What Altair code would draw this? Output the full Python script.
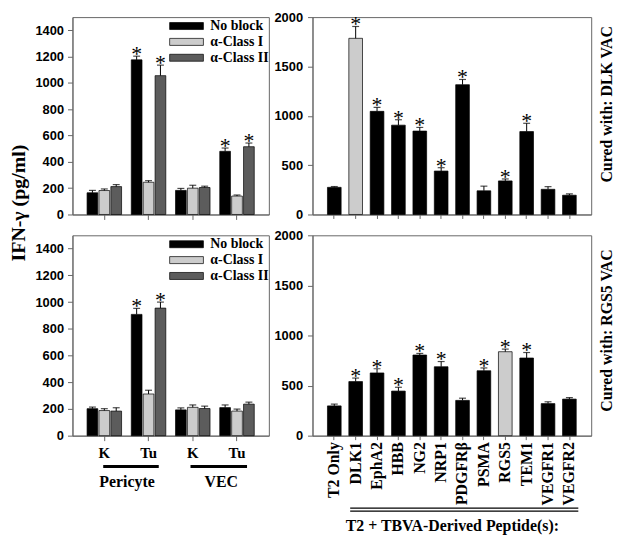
import altair as alt
import pandas as pd

# ---------------- data ----------------
left_categories = ["Pericyte K", "Pericyte Tu", "VEC K", "VEC Tu"]
treatments = ["No block", "α-Class I", "α-Class II"]
treat_colors = ["#000000", "#cccccc", "#5c5c5c"]

# upper-left panel (rows = categories, cols = treatments)
ul_values = [[165, 182, 212], [1175, 245, 1055], [183, 200, 205], [480, 140, 515]]
ul_errors = [[18, 12, 15], [28, 12, 80], [15, 22, 10], [25, 8, 28]]
ul_sig = [[0, 0, 0], [1, 0, 1], [0, 0, 0], [1, 0, 1]]

# lower-left panel
ll_values = [[202, 188, 184], [908, 312, 955], [193, 212, 203], [210, 184, 236]]
ll_errors = [[12, 14, 25], [45, 28, 45], [15, 18, 18], [20, 15, 15]]
ll_sig = [[0, 0, 0], [1, 0, 1], [0, 0, 0], [0, 0, 0]]

peptides = ["T2 Only", "DLK1", "EphA2", "HBB", "NG2", "NRP1", "PDGFRβ",
            "PSMA", "RGS5", "TEM1", "VEGFR1", "VEGFR2"]

# upper-right panel (Cured with: DLK VAC)
ur_values = [275, 1785, 1045, 905, 845, 440, 1315, 240, 340, 840, 255, 195]
ur_errors = [8, 120, 40, 55, 37, 34, 53, 47, 20, 84, 27, 13]
ur_sig = [0, 1, 1, 1, 1, 1, 1, 0, 1, 1, 0, 0]
ur_highlight = "DLK1"
ur_title = "Cured with: DLK VAC"

# lower-right panel (Cured with: RGS5 VAC)
lr_values = [297, 540, 626, 445, 805, 688, 352, 648, 838, 775, 320, 365]
lr_errors = [18, 35, 42, 38, 16, 52, 22, 28, 26, 55, 18, 15]
lr_sig = [0, 1, 1, 1, 1, 1, 0, 1, 1, 1, 0, 0]
lr_highlight = "RGS5"
lr_title = "Cured with: RGS5 VAC"

y_title = "IFN-γ (pg/ml)"
x_title_right = "T2 + TBVA-Derived Peptide(s):"
cell_groups = ["Pericyte", "VEC"]

# ---------------- layout / style ----------------
SERIF = "Liberation Serif"
SANS = "Liberation Sans"
LW, RW = 198, 281
UH, LH = 199, 202
GRAY_LIGHT = "#cccccc"


def left_frame(values, errors, sig):
    rows = []
    for i, c in enumerate(left_categories):
        for j, t in enumerate(treatments):
            rows.append({"cat": c, "treat": t, "value": values[i][j],
                         "hi": values[i][j] + errors[i][j], "sig": sig[i][j]})
    return pd.DataFrame(rows)


def left_panel(values, errors, sig, height, show_labels, with_title):
    df = left_frame(values, errors, sig)
    base = alt.Chart(df)
    xax = alt.Axis(title=None, labels=show_labels, ticks=True, tickSize=5,
                   labelAngle=0, labelExpr="split(datum.label, ' ')[1]",
                   labelFont=SERIF, labelFontSize=15, labelFontWeight="bold",
                   labelPadding=5)
    x = alt.X("cat:N", sort=left_categories,
              scale=alt.Scale(paddingInner=0.22, paddingOuter=0.33), axis=xax)
    xo = alt.XOffset("treat:N", sort=treatments,
                     scale=alt.Scale(paddingInner=0.1, paddingOuter=0))
    yscale = alt.Scale(domain=[0, 1500], nice=False)
    if with_title:
        yax = alt.Axis(values=list(range(0, 1401, 200)), format="d", tickSize=5,
                       labelPadding=4, title=y_title, titleY=187, titleFont=SERIF,
                       titleFontSize=20, titleFontWeight="bold", titlePadding=6,
                       titleColor="black")
    else:
        yax = alt.Axis(values=list(range(0, 1401, 200)), format="d", tickSize=5,
                       labelPadding=4, title=None)
    legend = alt.Legend(title=None, orient="none", legendX=107, legendY=1,
                        symbolType="M-2.27,-0.47H2.27V0.47H-2.27Z", symbolSize=225,
                        symbolStrokeColor="black", symbolStrokeWidth=0.7,
                        labelFont=SERIF, labelFontSize=14, labelFontWeight="bold",
                        labelOffset=16, rowPadding=1, padding=0)
    bars = base.mark_bar(stroke="black", strokeWidth=0.7).encode(
        x=x, xOffset=xo,
        y=alt.Y("value:Q", scale=yscale, axis=yax),
        fill=alt.Fill("treat:N", sort=treatments,
                      scale=alt.Scale(domain=treatments, range=treat_colors),
                      legend=legend),
    )
    err = base.mark_rule(color="black", strokeWidth=1).encode(
        x=x, xOffset=xo,
        y=alt.Y("value:Q", scale=yscale, axis=yax), y2="hi:Q")
    cap = base.mark_tick(color="black", size=7, thickness=1.2).encode(
        x=x, xOffset=xo, y=alt.Y("hi:Q", scale=yscale, axis=yax))
    star = base.transform_filter("datum.sig == 1").mark_text(
        text="*", font=SERIF, fontSize=22, baseline="alphabetic", dy=5,
        color="black").encode(
        x=x, xOffset=xo, y=alt.Y("hi:Q", scale=yscale, axis=yax))
    layers = [bars, err, cap, star]
    if show_labels:
        line_x = [(31, 87), (119, 176)]
        text_x = [55, 150]
        for k, name in enumerate(cell_groups):
            one = alt.Chart(pd.DataFrame({"g": [name]}))
            layers.append(one.mark_rule(color="black", strokeWidth=3).encode(
                x=alt.value(line_x[k][0]), x2=alt.value(line_x[k][1]),
                y=alt.value(height + 31)))
            layers.append(one.mark_text(font=SERIF, fontSize=16, fontWeight="bold",
                                        baseline="middle", align="center",
                                        color="black").encode(
                text="g:N", x=alt.value(text_x[k]), y=alt.value(height + 47)))
    return alt.layer(*layers).properties(width=LW, height=height)


def right_panel(values, errors, sig, highlight, height, lower, side_title, title_y):
    df = pd.DataFrame({
        "pep": peptides,
        "value": values,
        "hi": [v + e for v, e in zip(values, errors)],
        "sig": sig,
        "fill": [GRAY_LIGHT if p == highlight else "#000000" for p in peptides],
    })
    base = alt.Chart(df)
    if lower:
        xax = alt.Axis(title=x_title_right, labels=True, ticks=True, tickSize=4,
                       labelAngle=270, labelFont=SERIF, labelFontSize=16,
                       labelFontWeight="bold", labelPadding=2,
                       titleFont=SERIF, titleFontSize=16, titleFontWeight="bold",
                       titleY=91, titleBaseline="middle", titleColor="black")
    else:
        xax = alt.Axis(title=None, labels=False, ticks=True, tickSize=4)
    x = alt.X("pep:N", sort=peptides,
              scale=alt.Scale(paddingInner=0.36, paddingOuter=0.7), axis=xax)
    yscale = alt.Scale(domain=[0, 2000], nice=False)
    yax = alt.Axis(values=[0, 500, 1000, 1500, 2000], format="d", tickSize=5,
                   labelPadding=5, title=None)
    bars = base.mark_bar(stroke="black", strokeWidth=0.7).encode(
        x=x, y=alt.Y("value:Q", scale=yscale, axis=yax),
        fill=alt.Fill("fill:N", scale=None))
    err = base.mark_rule(color="black", strokeWidth=1).encode(
        x=x, y=alt.Y("value:Q", scale=yscale, axis=yax), y2="hi:Q")
    cap = base.mark_tick(color="black", size=7, thickness=1.2).encode(
        x=x, y=alt.Y("hi:Q", scale=yscale, axis=yax))
    star = base.transform_filter("datum.sig == 1").mark_text(
        text="*", font=SERIF, fontSize=22, baseline="alphabetic", dy=5,
        color="black").encode(x=x, y=alt.Y("hi:Q", scale=yscale, axis=yax))
    side = alt.Chart(pd.DataFrame({"t": [side_title]})).mark_text(
        angle=270, font=SERIF, fontSize=16, fontWeight="bold", align="center",
        baseline="middle", color="black").encode(
        text="t:N", x=alt.value(RW + 16), y=alt.value(title_y))
    layers = [bars, err, cap, star, side]
    if lower:
        for dy in (73, 76):
            layers.append(alt.Chart(pd.DataFrame({"k": [0]})).mark_rule(
                color="black", strokeWidth=1.3).encode(
                x=alt.value(38), x2=alt.value(268), y=alt.value(height + dy)))
    return alt.layer(*layers).properties(width=RW, height=height)


UL = left_panel(ul_values, ul_errors, ul_sig, UH, False, True)
UR = right_panel(ur_values, ur_errors, ur_sig, ur_highlight, UH, False, ur_title, 88)
LL = left_panel(ll_values, ll_errors, ll_sig, LH, True, False)
LR = right_panel(lr_values, lr_errors, lr_sig, lr_highlight, LH, True, lr_title, 96)

chart = alt.concat(
    UL, UR, LL, LR, columns=2, spacing={"row": 21, "column": 44},
    bounds="flush", align="each",
).resolve_scale(fill="independent").resolve_legend(fill="independent").properties(
    padding={"left": 0, "top": 0, "right": 0, "bottom": 0}
).configure_view(
    stroke="#666", strokeWidth=1
).configure_axis(
    grid=False, domainColor="#666", tickColor="#666", labelColor="black",
    labelFont=SANS, labelFontSize=13, labelFontWeight="bold"
)

chart.save("out.html", embed_options={"renderer": "svg", "actions": False})
